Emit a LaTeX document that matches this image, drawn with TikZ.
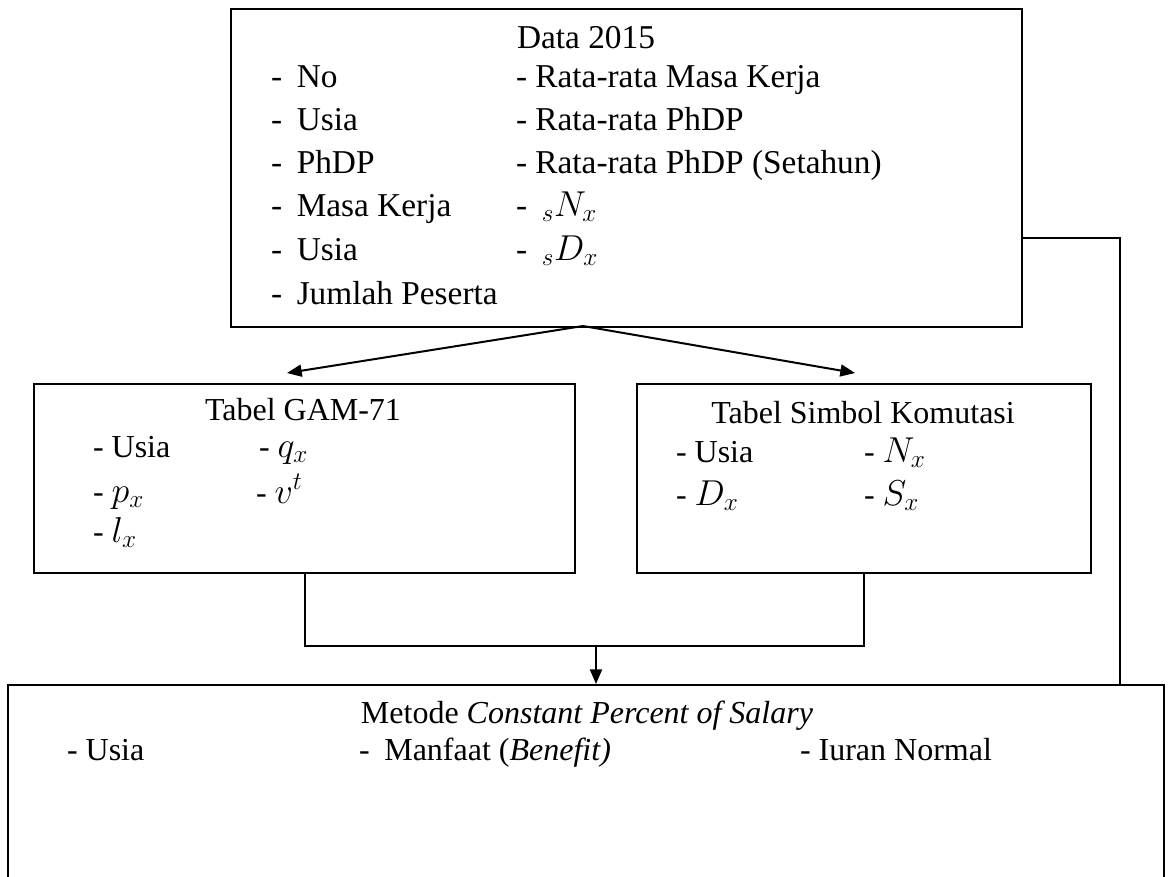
\RequirePackage{fix-cm}
\documentclass[tikz,border=0pt]{standalone}
\usepackage{fontspec}
\setmainfont{Liberation Serif}
\usetikzlibrary{arrows.meta}

% math symbols a little larger than the text
\newcommand{\bigsym}[1]{{\fontsize{27}{30}\selectfont$#1$}}

\tikzset{every picture/.style={line width=1.5pt}}
\tikzset{
  box/.style={draw, anchor=north west, inner sep=0pt},
  item/.style={anchor=base west, inner sep=0pt, font=\fontsize{24}{28}\selectfont},
  head/.style={anchor=base, inner sep=0pt, font=\fontsize{24}{28}\selectfont},
  bigitem/.style={item, font=\fontsize{25}{29}\selectfont},
  bighead/.style={head, font=\fontsize{25}{29}\selectfont},
  flow/.style={-{Triangle[length=11pt,width=9pt]}},
}

\begin{document}
\begin{tikzpicture}[x=0.75pt,y=0.75pt,yscale=-1,xscale=1]
\useasboundingbox (0,0) rectangle (1169,876);

%Shape: Rectangle [data 2015]
\node (data) [box, minimum width=593.25pt, minimum height=238.5pt] at (230,8) {};
%Shape: Rectangle [GAM-71]
\node (gam) [box, minimum width=405.75pt, minimum height=141.75pt] at (33,383) {};
%Shape: Rectangle [komutasi]
\node (komut) [box, minimum width=340.5pt, minimum height=141.75pt] at (636,383) {};
%Shape: Rectangle [metode, runs off the bottom]
\node (cps) [box, minimum width=867pt, minimum height=165pt] at (7,684) {};

% helper points for the connectors
\coordinate (split) at (583,326);
\coordinate (gamin) at (287,373);
\coordinate (komin) at (855,373);
\coordinate (join) at (596,646);
\coordinate (feed) at (1120,238);

%Arrows from the data box
\draw [flow] (split) -- (gamin);
\draw [flow] (split) -- (komin);
%Both tables into the method
\draw (gam.south) |- (join) -| (komut.south);
\draw [flow] (join) -- (join |- cps.north);
%Data straight into the method
\draw (data.east |- feed) -- (feed) -- (feed |- cps.north);

% Text Node
\draw (586,48) node (dtitle) [bighead] {Data 2015};
\draw (270,87) node (d1) [bigitem] {-\hspace{11pt}No};
\draw (270,130) node (d2) [bigitem] {-\hspace{11pt}Usia};
\draw (270,173) node (d3) [bigitem] {-\hspace{11pt}PhDP};
\draw (270,216) node (d4) [bigitem] {-\hspace{11pt}Masa Kerja};
\draw (270,260) node (d5) [bigitem] {-\hspace{11pt}Usia};
\draw (270,304) node (d6) [bigitem] {-\hspace{11pt}Jumlah Peserta};
\draw (515,87) node (d7) [bigitem] {- Rata-rata Masa Kerja};
\draw (515,130) node (d8) [bigitem] {- Rata-rata PhDP};
\draw (515,173) node (d9) [bigitem] {- Rata-rata PhDP (Setahun)};
\draw (515,216) node (d10) [bigitem] {-\hspace{11pt}\bigsym{{}_{s}N_{x}}};
\draw (515,260) node (d11) [bigitem] {-\hspace{11pt}\bigsym{{}_{s}D_{x}}};

% Text Node
\draw (303,420) node (gtitle) [head] {Tabel GAM-71};
\draw (92,457) node (g1) [item] {- Usia};
\draw (92,502) node (g2) [item] {- \bigsym{p_{x}}};
\draw (92,542) node (g3) [item] {- \bigsym{l_{x}}};
\draw (258,457) node (g4) [item] {- \bigsym{q_{x}}};
\draw (255,503) node (g5) [item] {- \bigsym{v^{t}}};

% Text Node
\draw (863,423) node (ktitle) [head] {Tabel Simbol Komutasi};
\draw (675,462) node (k1) [item] {- Usia};
\draw (675,505) node (k2) [item] {- \bigsym{D_{x}}};
\draw (863,462) node (k3) [item] {- \bigsym{N_{x}}};
\draw (863,505) node (k4) [item] {- \bigsym{S_{x}}};

% Text Node
\draw (587,723) node (ctitle) [head] {Metode \textit{Constant Percent of Salary}};
\draw (66,760) node (c1) [item] {- Usia};
\draw (358,760) node (c2) [item] {-\hspace{11pt}Manfaat (\textit{Benefit)}};
\draw (799,760) node (c3) [item] {- Iuran Normal};

\end{tikzpicture}
\end{document}
